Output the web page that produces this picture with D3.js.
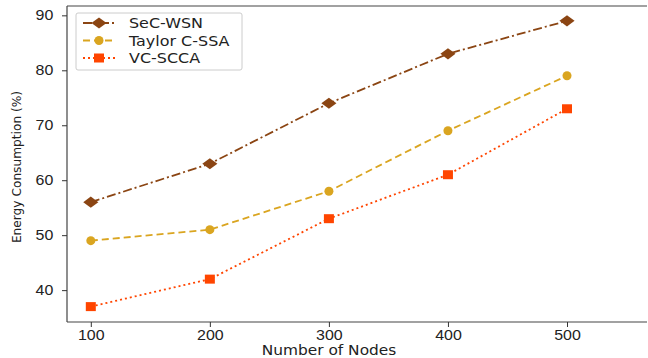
<!DOCTYPE html>
<html lang="en">
<head>
<meta charset="UTF-8">
<title>Energy Consumption vs Number of Nodes</title>
<script src="https://d3js.org/d3.v7.min.js"></script>
<style>
    body { margin: 0; background: #fff; }
    svg { display: block; font-family: "DejaVu Sans", sans-serif; }
    .tick text { font-size: 14px; fill: #222; }
    .tick line { stroke: #333; }
</style>
</head>
<body>
<div id="chart"></div>
<script>
    // values
    const nodes = [100, 200, 300, 400, 500];
    const secWsn = [56, 63, 74, 83, 89];
    const taylorCssa = [49, 51, 58, 69, 79];
    const vcScca = [37, 42, 53, 61, 73];
    const yTicks = [40, 50, 60, 70, 80, 90];

    const series = [
        { name: "SeC-WSN", values: secWsn, color: "#8B4513", dash: "9,3,2,3", marker: "diamond" },
        { name: "Taylor C-SSA", values: taylorCssa, color: "#DAA520", dash: "7,4", marker: "circle" },
        { name: "VC-SCCA", values: vcScca, color: "#FF4500", dash: "2,3", marker: "square" }
    ];

    const W = 648, H = 358;
    const margin = { top: 6, right: 1, bottom: 36, left: 67 };
    const stretch = 1.14; // the original looks a bit stretched sideways

    const svg = d3.select("#chart").append("svg")
        .attr("width", W).attr("height", H);

    // x: 80 -> left spine, 500 -> 567px
    const x = d3.scaleLinear().domain([80, 500]).range([margin.left, 567]);
    const y = d3.scaleLinear().domain([34.2, 91.7]).range([H - margin.bottom, margin.top]);

    // frame (top and bottom run to the edge, like the cropped original)
    const frame = svg.append("g").attr("stroke", "#444").attr("stroke-width", 1.2);
    frame.append("line").attr("x1", margin.left).attr("x2", W - margin.right)
        .attr("y1", margin.top).attr("y2", margin.top);
    frame.append("line").attr("x1", margin.left).attr("x2", margin.left)
        .attr("y1", margin.top).attr("y2", H - margin.bottom);
    frame.append("line").attr("x1", margin.left).attr("x2", W - margin.right)
        .attr("y1", H - margin.bottom).attr("y2", H - margin.bottom);

    svg.append("g")
        .attr("transform", `translate(0,${H - margin.bottom})`)
        .call(d3.axisBottom(x).tickValues(nodes).tickSize(5).tickPadding(3))
        .call(g => g.select(".domain").remove())
        .call(g => g.selectAll(".tick text").attr("transform", `scale(${stretch},1)`));

    svg.append("g")
        .attr("transform", `translate(${margin.left},0)`)
        .call(d3.axisLeft(y).tickValues(yTicks).tickSize(5).tickPadding(7))
        .call(g => g.select(".domain").remove())
        .call(g => g.selectAll(".tick text").attr("transform", `scale(${stretch},1)`));

    const line = d3.line().x((d, i) => x(nodes[i])).y(d => y(d));

    function drawMarker(g, type, cx, cy, color) {
        if (type === "diamond") {
            g.append("path").attr("d", d3.symbol().type(d3.symbolDiamond2).size(110)())
                .attr("transform", `translate(${cx},${cy}) scale(1.15,0.85)`).attr("fill", color);
        } else if (type === "circle") {
            g.append("circle").attr("cx", cx).attr("cy", cy).attr("r", 4.5).attr("fill", color);
        } else {
            g.append("rect").attr("x", cx - 5).attr("y", cy - 4.5)
                .attr("width", 10).attr("height", 9).attr("fill", color);
        }
    }

    series.forEach(s => {
        svg.append("path").datum(s.values)
            .attr("fill", "none")
            .attr("stroke", s.color)
            .attr("stroke-width", 1.8)
            .attr("stroke-dasharray", s.dash)
            .attr("d", line);
        const g = svg.append("g");
        s.values.forEach((v, i) => drawMarker(g, s.marker, x(nodes[i]), y(v), s.color));
    });

    // legend
    const legend = svg.append("g").attr("transform", "translate(76,13)");
    legend.append("rect").attr("width", 166).attr("height", 57).attr("rx", 2)
        .attr("fill", "#fff").attr("fill-opacity", 0.85)
        .attr("stroke", "#ccc");
    series.forEach((s, i) => {
        const row = legend.append("g").attr("transform", `translate(0,${10 + i * 17.5})`);
        row.append("line").attr("x1", 7).attr("x2", 39)
            .attr("stroke", s.color).attr("stroke-width", 1.8)
            .attr("stroke-dasharray", s.dash);
        drawMarker(row, s.marker, 23, 0, s.color);
        row.append("text").attr("transform", `translate(53,5) scale(${stretch},1)`)
            .attr("font-size", 14).attr("fill", "#222").text(s.name);
    });

    // axis labels
    svg.append("text")
        .attr("transform", `translate(329,355) scale(${stretch},1)`)
        .attr("text-anchor", "middle").attr("font-size", 13.5).attr("fill", "#222")
        .text("Number of Nodes");

    svg.append("text")
        .attr("transform", "translate(21,167) rotate(-90)")
        .attr("text-anchor", "middle").attr("font-size", 12.2).attr("fill", "#222")
        .text("Energy Consumption (%)");
</script>
</body>
</html>
